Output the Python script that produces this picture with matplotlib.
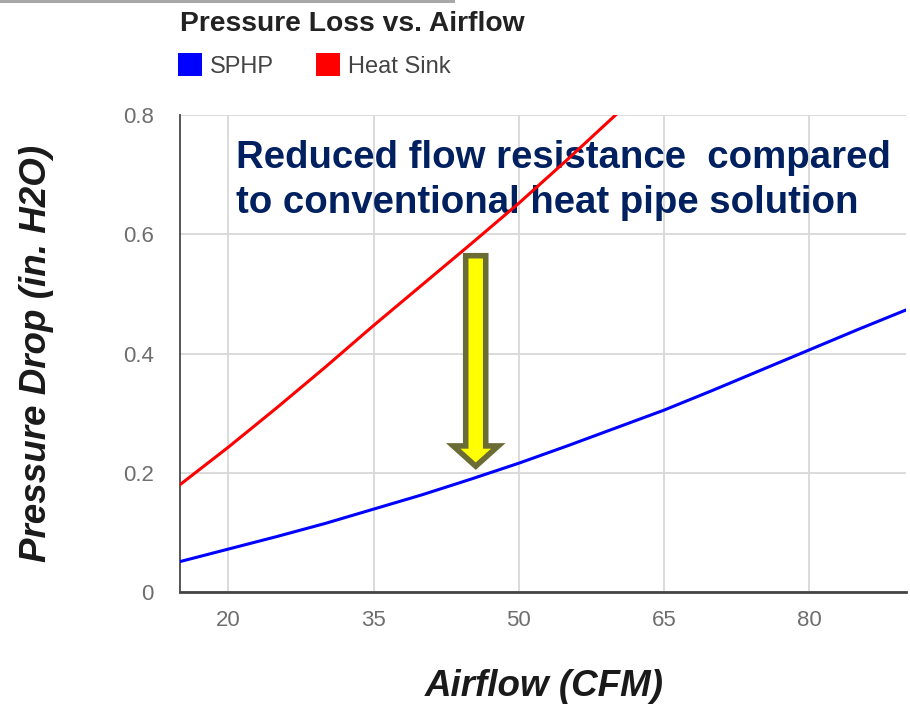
import matplotlib
matplotlib.use("Agg")
import matplotlib.pyplot as plt
from matplotlib.patches import Rectangle, FancyArrow

# values
airflow_sphp = [15, 20, 25, 30, 35, 40, 45, 50, 55, 60, 65, 70, 75, 80, 85, 90]
drop_sphp = [0.051, 0.072, 0.093, 0.115, 0.139, 0.163, 0.189, 0.216,
             0.245, 0.275, 0.305, 0.338, 0.372, 0.406, 0.440, 0.473]
airflow_hs = [15, 20, 25, 30, 35, 40, 45, 50, 55, 60, 65]
drop_hs = [0.180, 0.243, 0.309, 0.377, 0.447, 0.515, 0.583, 0.652, 0.725, 0.800, 0.875]

series_names = ["SPHP", "Heat Sink"]
series_colors = ["#0000ff", "#ff0000"]
x_ticks = [20, 35, 50, 65, 80]
y_ticks = [0, 0.2, 0.4, 0.6, 0.8]
y_tick_labels = ["0", "0.2", "0.4", "0.6", "0.8"]

W, H = 910, 704
plt.rcParams["font.family"] = ["Liberation Sans", "DejaVu Sans"]

def fx(px):
    return px / W

def fy(py):
    return 1 - py / H

fig = plt.figure(figsize=(W / 100, H / 100), dpi=100)
ax = fig.add_axes([fx(180), fy(592), (906 - 180) / W, (592 - 115) / H])

ax.plot(airflow_sphp, drop_sphp, color=series_colors[0], lw=2.2, zorder=3)
ax.plot(airflow_hs, drop_hs, color=series_colors[1], lw=2.2, zorder=3)

ax.set_xlim(15, 90)
ax.set_ylim(0, 0.8)
ax.set_xticks(x_ticks)
ax.set_yticks(y_ticks)
ax.set_yticklabels(y_tick_labels)
ax.grid(True, color="#d8d8d8", lw=1.3, zorder=0)
ax.set_axisbelow(True)
for s in ["top", "right"]:
    ax.spines[s].set_visible(False)
ax.spines["left"].set_color("#555555")
ax.spines["left"].set_linewidth(1.4)
ax.spines["bottom"].set_color("#444444")
ax.spines["bottom"].set_linewidth(2)
ax.tick_params(axis="both", length=0, labelsize=16, labelcolor="#6e6e6e")
ax.tick_params(axis="y", pad=19)
ax.tick_params(axis="x", pad=13)

# arrow from heat sink line down to SPHP line
arrow = FancyArrow(45.55, 0.564, 0, -(0.564 - 0.211), width=2.07, head_width=4.66,
                   head_length=0.034, length_includes_head=True,
                   fc="#ffff00", ec="#6b6b35", lw=4, joinstyle="miter", zorder=5)
ax.add_patch(arrow)

# callout text
ax.text(fx(236), fy(168), "Reduced flow resistance  compared", transform=fig.transFigure,
        fontsize=27.6, fontweight="bold", color="#002060", va="baseline", zorder=1)
ax.text(fx(236), fy(213), "to conventional heat pipe solution", transform=fig.transFigure,
        fontsize=27.6, fontweight="bold", color="#002060", va="baseline", zorder=1)

# title and legend
fig.text(fx(180), fy(31), "Pressure Loss vs. Airflow", fontsize=20.3, fontweight="bold",
         color="#222222", va="baseline")
legend_x = [178, 316]
for name, color, lx in zip(series_names, series_colors, legend_x):
    fig.patches.append(Rectangle((fx(lx), fy(76)), 24 / W, 23 / H, transform=fig.transFigure,
                                 facecolor=color, edgecolor="none"))
    fig.text(fx(lx + 32), fy(73), name, fontsize=17, color="#444444", va="baseline")

# axis labels
fig.text(fx(37), fy(353), "Pressure Drop (in. H2O)", fontsize=26.5, fontweight="bold",
         fontstyle="italic", color="#1a1a1a", rotation=90, ha="center", va="center")
fig.text(fx(544), fy(696), "Airflow (CFM)", fontsize=26.5, fontweight="bold",
         fontstyle="italic", color="#1a1a1a", ha="center", va="baseline")

# thin grey strip at the very top (screenshot edge)
fig.patches.append(Rectangle((0, fy(3)), 455 / W, 3 / H, transform=fig.transFigure,
                             facecolor="#a8a8a8", edgecolor="none"))

fig.savefig("out.png", dpi=100)
